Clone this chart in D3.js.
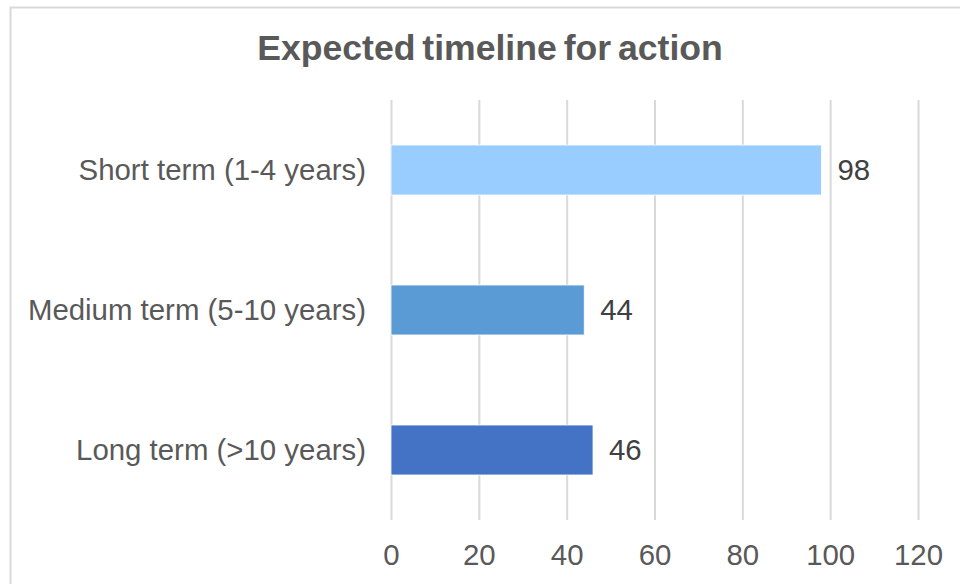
<!DOCTYPE html>
<html><head><meta charset="utf-8">
<script src="https://cdn.jsdelivr.net/npm/d3@7"></script>
<style>body{margin:0;background:#fff}svg{display:block}text{font-family:Arial,"Liberation Sans",sans-serif}</style>
</head><body><svg id="c" width="960" height="584"></svg>
<script>
const categories = ["Short term (1-4 years)", "Medium term (5-10 years)", "Long term (>10 years)"];
const values = [98, 44, 46];
const colors = ["#99CCFF", "#5B9BD5", "#4472C4"];
const xTicks = [0, 20, 40, 60, 80, 100, 120];
const title = "Expected timeline for action";

const svg = d3.select("#c");
svg.append("rect").attr("x", 10.5).attr("y", 7.5).attr("width", 1000).attr("height", 1000)
  .attr("fill", "#fff").attr("stroke", "#d9d9d9").attr("stroke-width", 2);

const x = d3.scaleLinear().domain([0, 120]).range([391, 918]);
const y = d3.scaleBand().domain(categories).range([100, 520]).paddingInner(0.643).paddingOuter(0.3215);

svg.append("text").attr("x", 490).attr("y", 60).attr("text-anchor", "middle")
  .attr("font-size", 35.6).attr("font-weight", "bold").attr("fill", "#595959").attr("word-spacing", -3).text(title);

const gx = svg.append("g").attr("transform", "translate(0,520)")
  .call(d3.axisBottom(x).tickValues(xTicks).tickSize(420).tickSizeOuter(0).tickPadding(0).tickFormat(d3.format("d")));
gx.select(".domain").remove();
gx.selectAll(".tick line").attr("y2", -420).attr("stroke", "#d9d9d9").attr("stroke-width", 2);
gx.selectAll(".tick text").attr("y", 45).attr("dy", 0).attr("font-size", 29.4).attr("fill", "#595959");

const gy = svg.append("g").attr("transform", "translate(366,0)")
  .call(d3.axisLeft(y).tickSize(0).tickPadding(0));
gy.select(".domain").remove();
gy.selectAll(".tick text").attr("font-size", 29.4).attr("fill", "#595959").attr("dy", "0.35em");

svg.selectAll(".bar").data(values).join("rect").attr("class", "bar")
  .attr("x", x(0)).attr("y", (d, i) => y(categories[i]))
  .attr("width", d => x(d) - x(0)).attr("height", y.bandwidth())
  .attr("fill", (d, i) => colors[i]).attr("stroke", "#ffffff").attr("stroke-width", 0.8);

svg.selectAll(".val").data(values).join("text").attr("class", "val")
  .attr("x", d => x(d) + 16).attr("y", (d, i) => y(categories[i]) + y.bandwidth() / 2)
  .attr("dy", "0.35em").attr("font-size", 29.4).attr("fill", "#404040").text(d => d);
</script></body></html>
